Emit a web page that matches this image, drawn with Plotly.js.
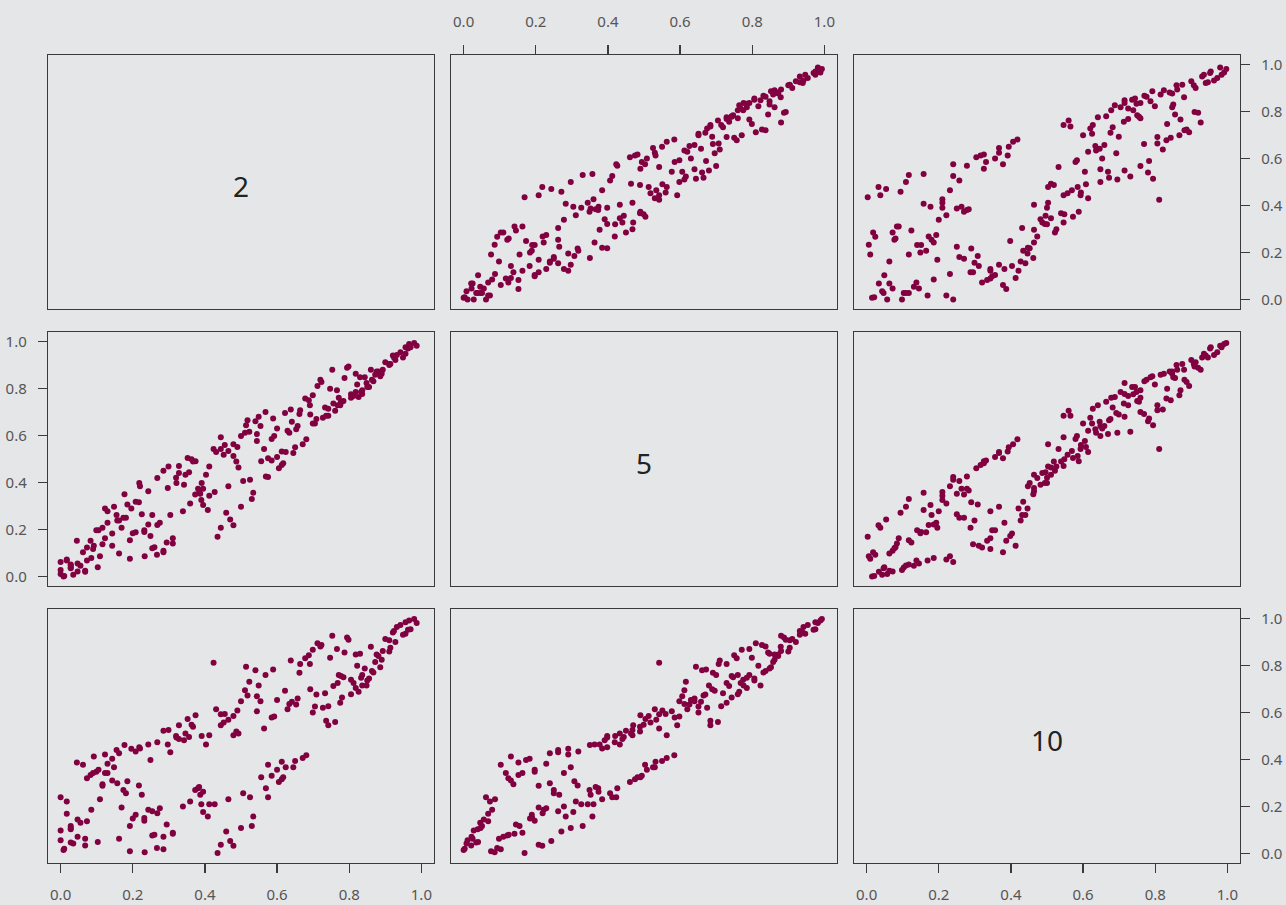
<!DOCTYPE html>
<html>
<head>
<meta charset="utf-8">
<script src="https://cdn.plot.ly/plotly-3.0.1.min.js"></script>
<style>html,body{margin:0;padding:0;background:#e5e6e8;}#chart{width:1286px;height:905px;}</style>
</head>
<body>
<div id="chart"></div>
<script>
// Variable labels (diagonal)
const varLabels = ["2", "5", "10"];
const tickVals = [0, 0.2, 0.4, 0.6, 0.8, 1.0];
const tickText = ["0.0", "0.2", "0.4", "0.6", "0.8", "1.0"];

// var "2"
const var2 = [
.435,.233,.192,.008,.285,.010,.267,.068,.479,.444,
.035,.028,.103,.470,.000,.162,.068,.285,.047,.254,
.260,.311,.311,.459,.000,.028,.500,.028,.530,.192,
.028,.294,.055,.073,.047,.232,.200,.232,.208,.534,
.408,.017,.268,.395,.254,.243,.085,.275,.169,.339,
.427,.412,.390,.359,.017,.465,.109,.575,.525,.000,
.387,.225,.506,.181,.395,.373,.174,.569,.381,.384,
.116,.217,.116,.157,.605,.185,.143,.613,.073,.617,
.556,.585,.083,.130,.123,.090,.099,.105,.600,.645,
.624,.148,.575,.062,.130,.045,.613,.650,.249,.143,
.671,.092,.681,.123,.162,.304,.208,.155,.196,.220,
.218,.403,.297,.243,.177,.268,.342,.328,.356,.321,
.479,.412,
.391,.320,.493,.346,.487,.285,.299,.564,
.742,.444,.367,.363,.328,.452,.761,.736,.465,.352,
.592,.585,.479,.374,.455,.444,.699,.544,.490,.629,
.431,.727,.705,.742,.653,.634,.775,.641,.554,.500,
.600,.657,.780,.544,.518,.709,.805,.733,.826,.622,
.511,.692,.818,.756,.848,.836,.549,.768,.812,.523,
.850,.805,.855,.833,.784,.777,.836,.771,.568,.662,
.867,.863,.540,.589,.843,.886,.514,.822,.691,.664,
.424,.872,.638,.890,.678,.747,.881,.688,.876,.818,
.830,.787,.911,.893,.699,.766,.914,.860,.720,.723,
.712,.928,.911,.900,.798,.794,.753,.949,.956,.921,
.924,.963,.970,.932,.942,.987,.956,.966,.980
];

// var "5"
const var5 = [
.169,.086,.076,.000,.103,.003,.093,.021,.218,.208,
.008,.035,.040,.243,.011,.098,.025,.110,.022,.121,
.125,.141,.163,.271,.028,.039,.297,.047,.330,.155,
.051,.145,.046,.068,.056,.197,.184,.190,.189,.357,
.283,.068,.219,.304,.262,.222,.079,.229,.208,.278,
.360,.344,.326,.311,.073,.384,.087,.423,.412,.062,
.352,.265,.406,.250,.374,.349,.250,.426,.373,.366,
.208,.316,.138,.239,.461,.307,.131,.475,.124,.482,
.490,.494,.152,.278,.163,.117,.197,.197,.508,.525,
.530,.297,.503,.103,.229,.152,.532,.550,.173,.183,
.563,.131,.584,.290,.239,.262,.318,.262,.290,.384,
.398,.433,.377,.363,.350,.419,.391,.440,.444,.398,
.563,.468,
.398,.420,.464,.433,.489,.450,.468,.542,
.684,.592,.489,.499,.470,.518,.705,.684,.534,.504,
.598,.585,.513,.490,.560,.542,.651,.577,.551,.620,
.530,.675,.651,.714,.626,.612,.729,.658,.640,.598,
.630,.640,.743,.606,.665,.670,.760,.719,.764,.696,
.612,.689,.785,.736,.823,.776,.680,.729,.768,.616,
.806,.775,.806,.785,.747,.743,.792,.760,.700,.691,
.831,.837,.661,.672,.848,.852,.644,.817,.729,.707,
.542,.858,.710,.862,.757,.799,.872,.750,.872,.862,
.848,.844,.900,.880,.771,.792,.904,.879,.837,.827,
.810,.921,.904,.911,.893,.888,.880,.932,.947,.940,
.932,.970,.975,.942,.954,.982,.975,.989,.993
];

// var "10"
const var10 = [
.003,.006,.010,.015,.018,.021,.024,.034,.033,.038,
.043,.047,.049,.054,.057,.063,.063,.072,.072,.077,
.080,.084,.089,.094,.098,.103,.109,.109,.117,.117,
.117,.124,.131,.138,.145,.140,.149,.151,.165,.158,
.158,.169,.172,.177,.180,.186,.186,.193,.196,.200,
.210,.210,.210,.221,.221,.231,.231,.240,.240,.240,
.250,.250,.257,.257,.263,.270,.270,.278,.278,.283,
.288,.290,.295,.299,.304,.308,.311,.316,.320,.325,
.325,.331,.334,.343,.343,.343,.348,.356,.356,.367,
.367,.367,.378,.378,.382,.387,.391,.394,.398,.403,
.406,.413,.418,.421,.427,.431,.434,.440,.446,.447,
.452,.464,.464,.464,.462,.473,.482,.487,.496,.494,
.503,.503,
.500,.500,.511,.511,.519,.522,.526,.532,
.546,.546,.539,.548,.546,.557,.560,.565,.569,.572,
.583,.579,.585,.588,.594,.593,.600,.605,.608,.614,
.614,.620,.625,.627,.634,.636,.641,.646,.648,.648,
.653,.659,.664,.669,.672,.676,.678,.682,.688,.692,
.695,.699,.704,.713,.715,.715,.715,.725,.725,.731,
.736,.739,.744,.748,.750,.755,.759,.759,.759,.769,
.770,.776,.780,.783,.787,.792,.794,.799,.806,.806,
.811,.815,.821,.824,.831,.833,.840,.843,.847,.847,
.850,.855,.859,.861,.867,.870,.875,.880,.881,.887,
.894,.900,.907,.912,.909,.919,.926,.930,.935,.940,
.946,.952,.954,.963,.972,.980,.984,.991,.997
];

const vars = [var2, var5, var10];

// ---- layout geometry (pixels) ----
const W = 1286, H = 905;
const colPx = [[48, 434], [451, 837], [854, 1240]];
const rowPx = [[55, 309], [332, 586], [609, 863]];
const BG = "#e5e6e8";
const PT = "#800040";
const FONT = "Noto Sans, Open Sans, DejaVu Sans, sans-serif";

const data = [];
const layout = {
  width: W, height: H,
  margin: {l: 0, r: 0, t: 0, b: 0, pad: 0},
  paper_bgcolor: BG, plot_bgcolor: BG,
  showlegend: false,
  font: {family: FONT, color: "#555"},
  annotations: []
};

for (let i = 0; i < 3; i++) {
  for (let j = 0; j < 3; j++) {
    const k = i * 3 + j + 1;
    const xa = "xaxis" + (k === 1 ? "" : k);
    const ya = "yaxis" + (k === 1 ? "" : k);
    const xr = "x" + (k === 1 ? "" : k);
    const yr = "y" + (k === 1 ? "" : k);

    // which sides carry tick labels (R pairs convention)
    const topTicks = (i === 0 && j === 1);
    const bottomTicks = (i === 2 && (j === 0 || j === 2));
    const leftTicks = (j === 0 && i === 1);
    const rightTicks = (j === 2 && (i === 0 || i === 2));

    layout[xa] = {
      domain: [colPx[j][0] / W, colPx[j][1] / W],
      anchor: yr,
      range: [-0.035, 1.035],
      showgrid: false, zeroline: false,
      showline: true, mirror: true, linecolor: "#3a3a3a", linewidth: 1.2,
      ticks: (topTicks || bottomTicks) ? "outside" : "",
      ticklen: 9, tickwidth: 1.2, tickcolor: "#3a3a3a",
      showticklabels: topTicks || bottomTicks,
      side: topTicks ? "top" : "bottom",
      tickmode: "array", tickvals: tickVals, ticktext: tickText,
      tickfont: {size: 15, color: "#555", family: FONT},
      ticklabelstandoff: topTicks ? 12 : 9
    };
    layout[ya] = {
      domain: [1 - rowPx[i][1] / H, 1 - rowPx[i][0] / H],
      anchor: xr,
      range: [-0.04, 1.04],
      showgrid: false, zeroline: false,
      showline: true, mirror: true, linecolor: "#3a3a3a", linewidth: 1.2,
      ticks: (leftTicks || rightTicks) ? "outside" : "",
      ticklen: 9, tickwidth: 1.2, tickcolor: "#3a3a3a",
      showticklabels: leftTicks || rightTicks,
      side: rightTicks ? "right" : "left",
      tickmode: "array", tickvals: tickVals, ticktext: tickText,
      tickfont: {size: 15, color: "#555", family: FONT},
      ticklabelstandoff: 8
    };

    if (i === j) {
      // empty trace so the diagonal panel's axes are drawn
      data.push({
        type: "scatter", mode: "markers",
        x: [null], y: [null],
        xaxis: xr, yaxis: yr, hoverinfo: "skip"
      });
      layout.annotations.push({
        xref: xr + " domain", yref: yr + " domain",
        x: 0.5, y: 0.485, xanchor: "center", yanchor: "middle",
        text: varLabels[i], showarrow: false,
        font: {size: 28, color: "#222", family: FONT}
      });
    } else {
      data.push({
        type: "scatter", mode: "markers",
        x: vars[j], y: vars[i],
        xaxis: xr, yaxis: yr,
        marker: {color: PT, size: 6, line: {width: 0}},
        hoverinfo: "skip"
      });
    }
  }
}

Plotly.newPlot("chart", data, layout, {staticPlot: true, displayModeBar: false});
</script>
</body>
</html>
